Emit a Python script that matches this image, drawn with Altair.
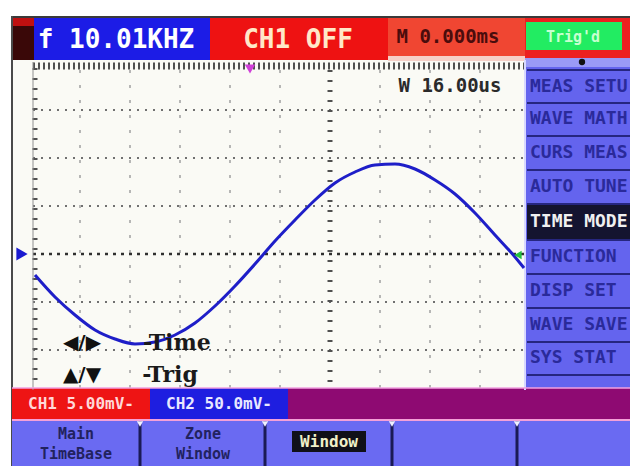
import altair as alt
import pandas as pd

# ---------------- values read from the screen ----------------
# trace (screen pixel units, x to the right, y downward)
wave_x = [35, 55, 75, 95, 115, 135, 155, 175, 195, 215, 235, 255, 275,
          295, 315, 335, 355, 375, 395, 415, 435, 455, 475, 495, 515, 524]
wave_y = [275, 297, 315, 330, 339, 344, 342, 335, 323, 306, 286, 264, 241,
          220, 200, 183, 172, 165, 164, 169, 180, 194, 213, 235, 257, 268]

freq_label = "f 10.01KHZ"
ch1_state = "CH1 OFF"
timebase_pos = "M 0.000ms"
run_state = "Trig'd"
window_label = "W 16.00us"
menu_items = ["MEAS SETU", "WAVE MATH", "CURS MEAS", "AUTO TUNE", "TIME MODE",
              "FUNCTION", "DISP SET", "WAVE SAVE", "SYS STAT"]
selected_item = "TIME MODE"
ch1_scale = "CH1 5.00mV-"
ch2_scale = "CH2 50.0mV-"
softkey_top = ["Main", "Zone"]
softkey_bottom = ["TimeBase", "Window"]
softkey_selected = "Window"
hint_keys = ["\u25c0/\u25b6", "\u25b2/\u25bc"]
hint_words = ["-Time", "-Trig"]

# ---------------- layout of the screen ----------------
boxes = [
    (13, 525, 60, 390, "#fafaf5"),
    (12, 638, 16, 18, "#3a3a3a"),
    (11, 13, 16, 474, "#4a4a4a"),
    (13, 34, 18, 60, "#3a0808"),
    (13, 34, 18, 26, "#c01010"),
    (34, 210, 18, 60, "#1c1ce6"),
    (210, 388, 18, 60, "#ee1212"),
    (388, 525, 18, 58, "#f04632"),
    (525, 638, 18, 60, "#ec2020"),
    (526, 622, 22, 50, "#22ec62"),
    (388, 525, 56, 61, "#f6d0c8"),
    (525, 638, 60, 390, "#6464ee"),
    (525, 638, 58, 67, "#9a9af6"),
    (527, 638, 205, 240, "#141430"),
    (12, 150, 388, 419, "#ee1414"),
    (150, 288, 388, 419, "#1e1ee0"),
    (288, 638, 388, 419, "#8e0a72"),
    (12, 638, 419, 474, "#6a6af2"),
    (292, 366, 431, 452, "#101018"),
]
menu_y = [87, 119, 153, 187, 222, 257, 291, 325, 358]
menu_seps = [70, 103, 136, 170, 204, 240, 274, 308, 342, 375]
softkey_seps = [140, 265, 392, 517, 636]
vgrid = [80, 130, 180, 230, 280, 380, 430, 480]
hgrid = [110, 158, 206, 302, 350]

XS = alt.Scale(domain=[8, 630], nice=False, zero=False)
YS = alt.Scale(domain=[8, 466], nice=False, zero=False, reverse=True)


def xe(f):
    return alt.X(f"{f}:Q", scale=XS, axis=None)


def ye(f):
    return alt.Y(f"{f}:Q", scale=YS, axis=None)


rect_df = pd.DataFrame(boxes, columns=["x0", "x1", "y0", "y1", "fill"])
rects = alt.Chart(rect_df).mark_rect().encode(
    x=xe("x0"), x2=alt.X2("x1:Q"), y=ye("y0"), y2=alt.Y2("y1:Q"),
    color=alt.Color("fill:N", scale=None))


def rules(rows, color, width, dash=None):
    df = pd.DataFrame(rows, columns=["x0", "x1", "y0", "y1"])
    kw = dict(color=color, strokeWidth=width)
    if dash:
        kw["strokeDash"] = dash
    return alt.Chart(df).mark_rule(**kw).encode(
        x=xe("x0"), x2=alt.X2("x1:Q"), y=ye("y0"), y2=alt.Y2("y1:Q"))


layers = [rects]
layers.append(rules([(v, v, 70, 388) for v in vgrid], "#a0a0a0", 1.5, [3, 12]))
layers.append(rules([(33, 524, h, h) for h in hgrid], "#707070", 2, [2, 6]))
layers.append(rules([(33, 524, 254, 254)], "#303030", 2.5, [3, 5]))
layers.append(rules([(330, 330, 70, 388), (35, 35, 68, 388)], "#505050", 5, [2, 8]))
layers.append(rules([(33, 524, 66, 66)], "#505050", 7, [2, 3]))
layers.append(rules([(33, 33, 62, 390)], "#909090", 1))
layers.append(rules([(527, 638, s, s) for s in menu_seps], "#262680", 2))
layers.append(rules([(525, 525, 60, 390)], "#d8d8ff", 2))
layers.append(rules([(s, s, 421, 474) for s in softkey_seps], "#1a1a55", 3))
layers.append(rules([(12, 638, 388, 388)], "#f0a0e0", 1.5))
layers.append(rules([(12, 638, 420, 420)], "#f4a0d8", 2))

wave_df = pd.DataFrame({"x": wave_x, "y": wave_y})
layers.append(alt.Chart(wave_df).mark_line(color="#1e1ec8", strokeWidth=3,
                                           interpolate="monotone").encode(
    x=xe("x"), y=ye("y"), order="x:Q"))


def points(rows, shape, size, color):
    df = pd.DataFrame(rows, columns=["x", "y"])
    return alt.Chart(df).mark_point(filled=True, shape=shape, size=size,
                                    color=color, opacity=1).encode(x=xe("x"), y=ye("y"))


layers.append(points([(22, 254)], "triangle-right", 170, "#1a1ad0"))
layers.append(points([(250, 69)], "triangle-down", 110, "#d040d8"))
layers.append(points([(518, 255)], "triangle-left", 70, "#22c040"))
layers.append(points([(582, 62)], "circle", 40, "#101010"))
layers.append(points([(s, 424) for s in softkey_seps[:4]], "triangle-down", 40, "#f0f0ff"))


def texts(rows, size, color, align="center", font="DejaVu Sans Mono", weight="bold"):
    df = pd.DataFrame(rows, columns=["x", "y", "t"])
    return alt.Chart(df).mark_text(align=align, baseline="middle", font=font,
                                   fontSize=size, fontWeight=weight,
                                   color=color).encode(x=xe("x"), y=ye("y"), text="t:N")


layers.append(texts([(116, 40, freq_label)], 26, "#ffffff"))
layers.append(texts([(298, 40, ch1_state)], 26, "#ffe8c8"))
layers.append(texts([(448, 37, timebase_pos)], 19, "#4a0c0c"))
layers.append(texts([(573, 37, run_state)], 15, "#c8ffd0"))
layers.append(texts([(450, 86, window_label)], 19, "#2a2a2a"))
layers.append(texts([(82, 343, hint_keys[0]), (82, 375, hint_keys[1])], 20, "#111111",
                    font="DejaVu Sans"))
layers.append(texts([(177, 343, hint_words[0]), (170, 375, hint_words[1])], 22, "#1a1a1a",
                    font="DejaVu Serif"))
layers.append(texts([(530, y, m) for y, m in zip(menu_y, menu_items) if m != selected_item],
                    18, "#2a2a9a", align="left"))
layers.append(texts([(530, y, m) for y, m in zip(menu_y, menu_items) if m == selected_item],
                    18, "#f0f0f0", align="left"))
layers.append(texts([(81, 404, ch1_scale)], 16, "#ffd8d8"))
layers.append(texts([(219, 404, ch2_scale)], 16, "#e8e8ff"))
layers.append(texts([(76, 434, softkey_top[0]), (203, 434, softkey_top[1]),
                     (76, 454, softkey_bottom[0]), (203, 454, softkey_bottom[1])],
                    15, "#22225e"))
layers.append(texts([(329, 442, softkey_selected)], 16, "#f0f0c8"))

chart = alt.layer(*layers).properties(
    width=622, height=458,
    autosize=alt.AutoSizeParams(type="none"),
    padding=0,
    background="white",
).configure_view(strokeWidth=0)

chart.save("out.html", embed_options={"renderer": "svg", "actions": False})
